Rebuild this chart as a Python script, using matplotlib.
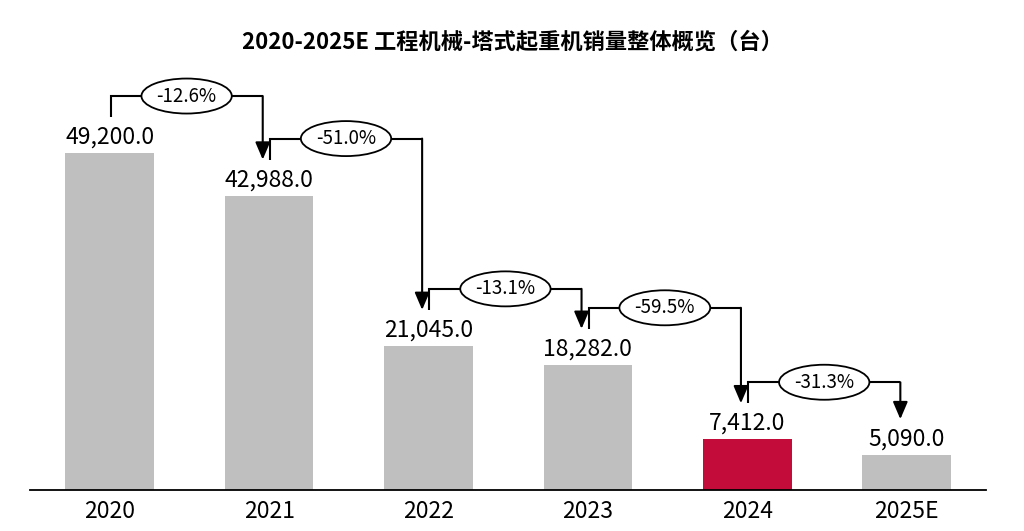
"""Tower crane sales overview 2020-2025E."""

import matplotlib
matplotlib.use("Agg")
import matplotlib.pyplot as plt

plt.rcParams["font.family"] = ["Noto Sans CJK SC", "DejaVu Sans"]

years = ["2020", "2021", "2022", "2023", "2024", "2025E"]
sales = [49200.0, 42988.0, 21045.0, 18282.0, 7412.0, 5090.0]
changes = ["-12.6%", "-51.0%", "-13.1%", "-59.5%", "-31.3%"]
title = "2020-2025E 工程机械-塔式起重机销量整体概览（台）"

GREY = "#bfbfbf"
RED = "#c30c3a"


def main():
    fig = plt.figure(figsize=(10.24, 5.31), dpi=100)
    ax = fig.add_axes([0.0293, 0.0772, 0.934, 0.81])
    ymax = 62800
    ax.set_xlim(-0.5, 5.5)
    ax.set_ylim(0, ymax)

    colors = [RED if y == "2024" else GREY for y in years]
    x = list(range(len(years)))
    ax.bar(x, sales, width=0.555, color=colors)

    for xi, v in zip(x, sales):
        ax.annotate(f"{v:,.1f}", (xi, v), xytext=(0, 3), textcoords="offset points",
                    ha="center", va="bottom", fontsize=16.5)

    # pixel -> data conversion for vertical offsets
    ax_h_px = 0.81 * 531
    per_px = ymax / ax_h_px
    off = 36 * per_px
    rise = 21 * per_px

    for i, lab in enumerate(changes):
        x0 = i + 0.005
        x1 = i + 1 - 0.04
        y0 = sales[i] + off
        lvl = y0 + rise
        tip = sales[i + 1] + off
        ax.plot([x0, x0, x1], [y0, lvl, lvl], color="black", lw=1.5,
                solid_capstyle="butt", solid_joinstyle="miter")
        ax.annotate("", xy=(x1, tip), xytext=(x1, lvl),
                    arrowprops=dict(arrowstyle="-|>,head_length=0.75,head_width=0.32",
                                    color="black", lw=1.5, shrinkA=0, shrinkB=0,
                                    mutation_scale=14))
        ax.text((x0 + x1) / 2, lvl, lab, ha="center", va="center", fontsize=13.5,
                bbox=dict(boxstyle="ellipse,pad=0.1", fc="white", ec="black", lw=1.3))

    ax.set_xticks(x)
    ax.set_xticklabels(years, fontsize=16.5)
    ax.tick_params(axis="x", length=0, pad=7)
    ax.set_yticks([])
    for side in ["top", "right", "left"]:
        ax.spines[side].set_visible(False)
    ax.spines["bottom"].set_linewidth(1.3)

    fig.text(0.5, 0.921, title, ha="center", va="center", fontsize=16,
             fontweight="bold")

    fig.savefig("out.png", dpi=100)


if __name__ == "__main__":
    main()
